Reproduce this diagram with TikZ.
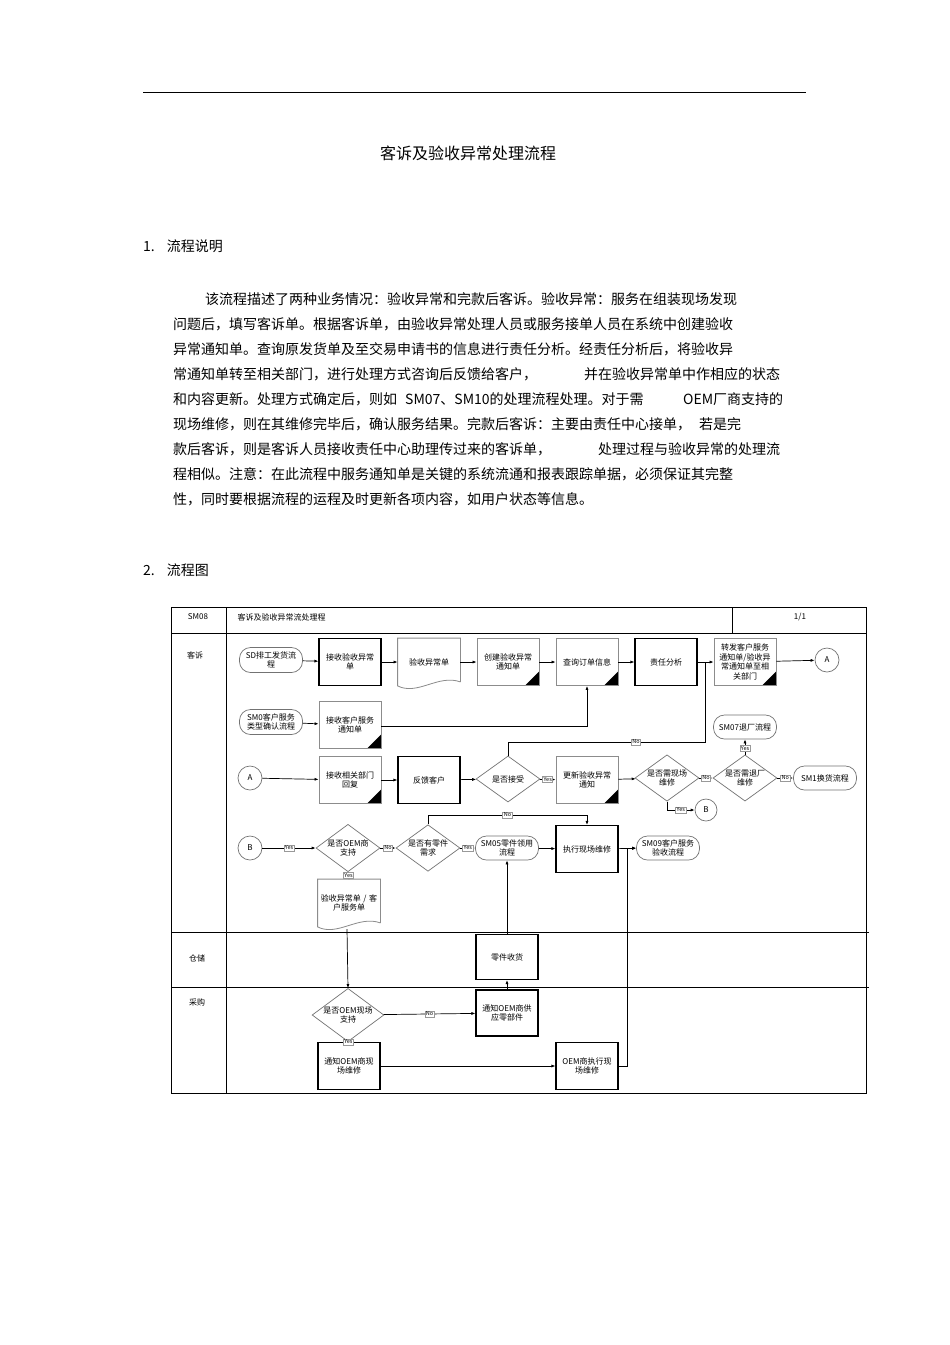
\documentclass[tikz,border=0pt]{standalone}
\usepackage{fontspec}
\setmainfont{Noto Sans CJK SC}
\usetikzlibrary{shapes.geometric,arrows.meta}
\tikzset{
 x=1pt,y=-1pt,
 dg/.style={font=\fontsize{8}{9.5}\selectfont,align=center},
 lbox/.style={dg,draw=black!45,line width=0.8pt,minimum width=62pt,minimum height=47pt,inner sep=1pt,text width=58pt},
 tbox/.style={lbox,draw=black,line width=1.1pt},
 corner/.style={path picture={\fill ([xshift=-14pt]path picture bounding box.south east) -- (path picture bounding box.south east) -- ([yshift=14pt]path picture bounding box.south east) -- cycle;}},
 term/.style={dg,draw=black!55,line width=0.7pt,rounded corners=11pt,minimum width=63pt,minimum height=25pt,inner sep=1pt},
 dia/.style={dg,draw=black!55,line width=0.7pt,diamond,aspect=1.35,minimum width=64pt,minimum height=46pt,inner sep=0pt},
 circ/.style={dg,draw=black!55,line width=0.7pt,circle,minimum size=24pt,inner sep=0pt},
 yn/.style={draw=black!40,fill=white,font=\fontsize{5.5}{6}\selectfont,inner sep=1pt},
 arr/.style={-{Latex[length=4pt,width=3pt]},line width=0.7pt},
 ln/.style={line width=0.7pt},
 para/.style={anchor=base west,font=\fontsize{14}{16}\selectfont,inner sep=0pt},
 docline/.style={black!45,line width=0.8pt},
}
\begin{document}
\begin{tikzpicture}
\useasboundingbox (0,0) rectangle (950,1345);
\fill[white] (0,0) rectangle (950,1345);
\draw[line width=0.8pt] (143,92) -- (806,92);
\node[font=\fontsize{16}{18}\selectfont] (title) at (468,153) {客诉及验收异常处理流程};
\node[para] (h1) at (143,251) {1.\hspace{12pt}流程说明};
\node[para] (p1) at (205,304) {该流程描述了两种业务情况：验收异常和完款后客诉。验收异常：服务在组装现场发现};
\node[para] (p2) at (173,329) {问题后，填写客诉单。根据客诉单，由验收异常处理人员或服务接单人员在系统中创建验收};
\node[para] (p3) at (173,354) {异常通知单。查询原发货单及至交易申请书的信息进行责任分析。经责任分析后，将验收异};
\node[para] (p4) at (173,379) {常通知单转至相关部门，进行处理方式咨询后反馈给客户，};
\node[para] (p4b) at (584,379) {并在验收异常单中作相应的状态};
\node[para] (p5) at (173,404) {和内容更新。处理方式确定后，则如};
\node[para] (p5b) at (405,404) {SM07、SM10的处理流程处理。对于需};
\node[para] (p5c) at (683,404) {OEM厂商支持的};
\node[para] (p6) at (173,429) {现场维修，则在其维修完毕后，确认服务结果。完款后客诉：主要由责任中心接单，\hspace{8pt}若是完};
\node[para] (p7) at (173,454) {款后客诉，则是客诉人员接收责任中心助理传过来的客诉单，};
\node[para] (p7b) at (598,454) {处理过程与验收异常的处理流};
\node[para] (p8) at (173,479) {程相似。注意：在此流程中服务通知单是关键的系统流通和报表跟踪单据，必须保证其完整};
\node[para] (p9) at (173,504) {性，同时要根据流程的运程及时更新各项内容，如用户状态等信息。};
\node[para] (h2) at (143,575) {2.\hspace{12pt}流程图};
% frame
\draw[line width=0.9pt] (171,607) rectangle (866,1093);
\draw[line width=0.9pt] (171,633) -- (866,633);
\draw[line width=0.9pt] (226,607) -- (226,1093);
\draw[line width=0.9pt] (732,607) -- (732,633);
\draw[line width=0.9pt] (171,932) -- (869,932);
\draw[line width=0.9pt] (171,987) -- (869,987);
\node[dg] (hsm) at (198,617) {SM08};
\node[dg,anchor=west] (htitle) at (234,617) {客诉及验收异常流处理程};
\node[dg] (hpg) at (800,617) {1/1};
\node[dg] (l1) at (195,655) {客诉};
\node[dg] (l2) at (197,958) {仓储};
\node[dg] (l3) at (197,1002) {采购};
% row 1
\node[term] (sd) at (271,660) {SD排工发货流\\程};
\node[tbox] (n1) at (350,662) {接收验收异常\\单\\[10pt]};
\node[lbox,draw=none] (n2) at (429,662) {验收异常单\\[20pt]};
\draw[docline] ([yshift=4pt]n2.south east) -- (n2.north east) -- (n2.north west) -- (n2.south west) .. controls ([xshift=20pt,yshift=-10pt]n2.south west) and ([xshift=-22pt,yshift=12pt]n2.south east) .. ([yshift=4pt]n2.south east);
\node[lbox,corner] (n3) at (508,662) {创建验收异常\\通知单\\[10pt]};
\node[lbox,corner] (n4) at (587,662) {查询订单信息\\[20pt]};
\node[tbox] (n5) at (666,662) {责任分析\\[20pt]};
\node[lbox,corner] (n6) at (745,662) {转发客户服务\\通知单/验收异\\常通知单至相\\关部门};
\node[circ] (a1) at (827,660) {A};
\draw[arr] (sd) -- (n1);
\draw[arr] (n1) -- (n2);
\draw[arr] (n2) -- (n3);
\draw[arr] (n3) -- (n4);
\draw[arr] (n4) -- (n5);
\draw[arr] (n5) -- (n6);
\draw[arr] (n6) -- (a1);
% row 2
\node[term] (sm0a) at (271,722) {SM0客户服务\\类型确认流程};
\node[lbox,corner] (n7) at (350,725) {接收客户服务\\通知单\\[10pt]};
\draw[arr] (sm0a) -- (n7);
\draw[arr] (n7.east |- 0,726) -| (n4.south);
\node[term,minimum height=24pt] (sm07) at (745,727) {SM07退厂流程};
% row 3
\node[circ] (a2) at (250,778) {A};
\node[lbox,corner] (n8) at (350,780) {接收相关部门\\回复\\[10pt]};
\node[tbox] (n9) at (429,780) {反馈客户\\[10pt]};
\node[dia] (d1) at (508,779) {是否接受};
\node[lbox,corner] (n10) at (587,780) {更新验收异常\\通知\\[10pt]};
\node[dia] (d2) at (667,778) {是否需现场\\维修};
\node[dia] (d3) at (745,778) {是否需退厂\\维修};
\node[term,minimum height=24pt] (sm1) at (825,778) {SM1换货流程};
\node[circ,minimum size=22pt] (b1) at (706,810) {B};
\draw[arr] (a2) -- (n8);
\draw[arr] (n8) -- (n9);
\draw[arr] (n9) -- (d1);
\draw[arr] (d1) -- node[yn]{Yes} (n10);
\draw[arr] (n10) -- (d2);
\draw[arr] (d2) -- node[yn]{No} (d3);
\draw[arr] (d3) -- node[yn]{No} (sm1);
\draw[arr] (d3.north) -- node[yn,pos=0.4]{Yes} (sm07.south);
\draw[ln] (d1.north) -- (508,742) -- node[yn,pos=0.65]{No} (705,742) -- (705,662);
\draw[arr] (d2.south) -- (667,810) -- node[yn]{Yes} (b1.west);
% row B
\node[circ] (b2) at (250,848) {B};
\node[dia] (d4) at (348,848) {是否OEM商\\支持};
\node[dia] (d5) at (428,848) {是否有零件\\需求};
\node[term,minimum height=24pt] (sm05) at (507,848) {SM05零件领用\\流程};
\node[tbox] (n11) at (587,849) {执行现场维修\\[18pt]};
\node[term,minimum height=24pt] (sm09) at (668,848) {SM09客户服务\\验收流程};
\draw[arr] (b2) -- node[yn]{Yes} (d4);
\draw[arr] (d4) -- node[yn]{No} (d5);
\draw[arr] (d5) -- node[yn]{Yes} (sm05);
\draw[arr] (sm05) -- (n11);
\draw[arr] (n11) -- (sm09);
\draw[arr] (d5.north) -- (428,815) -- node[yn,pos=0.5]{No} (587,815) -- (n11.north);
\node[lbox,draw=none] (doc2) at (349,903) {验收异常单 / 客\\户服务单\\[14pt]};
\draw[docline] ([yshift=4pt]doc2.south east) -- (doc2.north east) -- (doc2.north west) -- (doc2.south west) .. controls ([xshift=20pt,yshift=-10pt]doc2.south west) and ([xshift=-22pt,yshift=12pt]doc2.south east) .. ([yshift=4pt]doc2.south east);
\draw[ln] (d4.south) -- node[yn,pos=0.5]{Yes} (doc2.north);
% 仓储
\node[tbox,minimum height=45pt] (n12) at (507,957) {零件收货};
\draw[arr] (n12) -- (sm05);
% 采购
\node[dia] (d6) at (348,1015) {是否OEM现场\\支持};
\draw[arr] (347,929) -- (d6.north);
\node[tbox,minimum height=46pt] (n13) at (507,1013) {通知OEM商供\\应零部件};
\node[tbox] (n14) at (349,1066) {通知OEM商现\\场维修};
\node[tbox] (n15) at (587,1066) {OEM商执行现\\场维修};
\draw[arr] (d6) -- node[yn]{No} (n13);
\draw[arr] (n13) -- (n12);
\draw[ln] (d6.south) -- node[yn,pos=0.4]{Yes} (n14.north);
\draw[arr] (n14) -- (n15);
\draw[arr] (n15.east) -- (627,1066) -- (627,848) -- (sm09.west);
\end{tikzpicture}
\end{document}
